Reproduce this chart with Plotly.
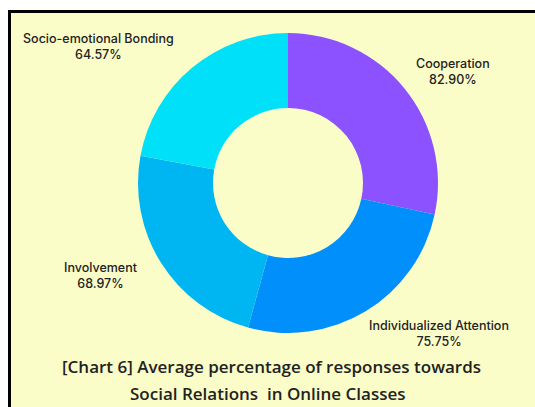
import plotly.graph_objects as go

categories = ["Cooperation", "Individualized Attention", "Involvement", "Socio-emotional Bonding"]
values = [82.90, 75.75, 68.97, 64.57]
colors = ["#8C52FF", "#008FFB", "#00B6F2", "#00E0F8"]
title_lines = ["[Chart 6] Average percentage of responses towards", "Social Relations  in Online Classes"]

W, H = 535, 407
# label anchor positions in pixels (centre x, centre y)
label_pos = {
    "Cooperation": (453, 71),
    "Individualized Attention": (439, 333),
    "Involvement": (100, 275),
    "Socio-emotional Bonding": (98, 46),
}
title_pos = [(271, 366), (268, 393)]

fig = go.Figure()
fig.add_trace(go.Pie(
    labels=categories, values=values, hole=0.5, sort=False, direction="clockwise",
    rotation=0, marker=dict(colors=colors, line=dict(width=0)), textinfo="none",
    hoverinfo="label+value", showlegend=False,
    domain=dict(x=[138 / W, 438 / W], y=[(H - 333) / H, (H - 33) / H]),
))

annotations = []
for c, v in zip(categories, values):
    px, py = label_pos[c]
    annotations.append(dict(
        x=px / W, y=1 - py / H, xref="paper", yref="paper", xanchor="center", yanchor="middle",
        text=f"{c}<br>{v:.2f}%", showarrow=False, align="center",
        font=dict(family="Inter, Liberation Sans, sans-serif", size=12.5, color="#222222", weight=500),
    ))
for line, (px, py) in zip(title_lines, title_pos):
    annotations.append(dict(
        x=px / W, y=1 - py / H, xref="paper", yref="paper", xanchor="center", yanchor="middle",
        text=line, showarrow=False, align="center",
        font=dict(family="Open Sans, sans-serif", size=17, color="#222222", weight=600),
    ))

fig.update_layout(
    width=W, height=H, margin=dict(l=0, r=0, t=0, b=0),
    paper_bgcolor="white", plot_bgcolor="white",
    annotations=annotations,
    shapes=[dict(type="rect", xref="paper", yref="paper", layer="below",
                 x0=9.5 / W, x1=1.05, y0=-0.05, y1=1 - 11.5 / H,
                 line=dict(color="black", width=3), fillcolor="#FBFDC8")],
)
fig.write_html("out.html")
